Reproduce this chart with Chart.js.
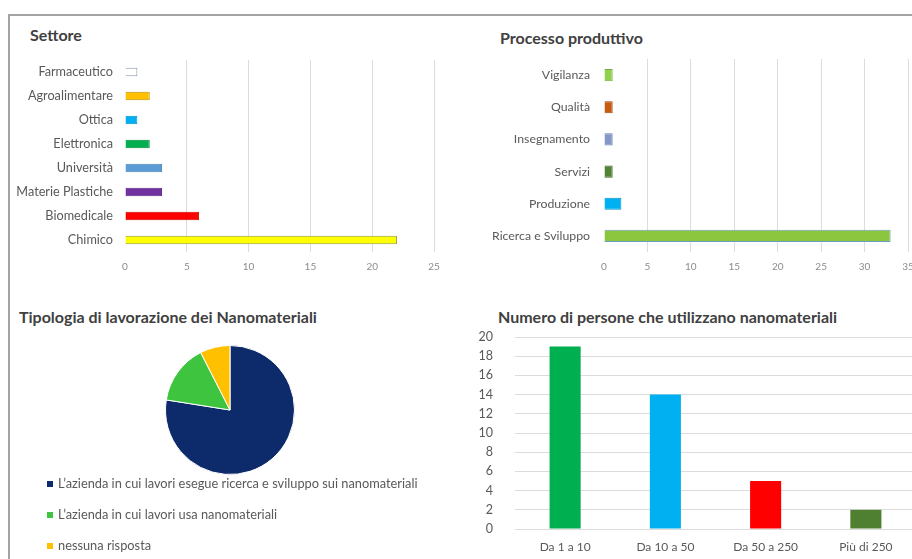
<!DOCTYPE html>
<html>
<head>
<meta charset="utf-8">
<script src="https://cdn.jsdelivr.net/npm/chart.js@4.4.0/dist/chart.umd.min.js"></script>
<style>
  body { margin: 0; width: 912px; height: 559px; overflow: hidden; background: #fff; position: relative; font-family: Lato, "Open Sans", sans-serif; }
  .frame { position: absolute; left: 8px; top: 14px; width: 940px; height: 600px; border-top: 2px solid #a3a3a3; border-left: 2px solid #a3a3a3; }
  .title { position: absolute; font-weight: bold; font-size: 16px; line-height: 16px; color: #404040; white-space: nowrap; }
  .box { position: absolute; }
  .legend { position: absolute; left: 47px; top: 468px; font-size: 12.8px; color: #595959; }
  .legend div { height: 31px; line-height: 31px; white-space: nowrap; }
  .legend span { display: inline-block; width: 6px; height: 6px; margin-right: 5px; vertical-align: middle; position: relative; top: -1px; }
</style>
</head>
<body>
<div class="frame"></div>

<div class="title" style="left:30px; top:27px;">Settore</div>
<div class="title" style="left:500px; top:30px;">Processo produttivo</div>
<div class="title" style="left:19px; top:309px;">Tipologia di lavorazione dei Nanomateriali</div>
<div class="title" style="left:498px; top:309px;">Numero di persone che utilizzano nanomateriali</div>

<div class="box" style="left:10px; top:55px; width:440px; height:222px;"><canvas id="settore"></canvas></div>
<div class="box" style="left:470px; top:53px; width:454px; height:224px;"><canvas id="processo"></canvas></div>
<div class="box" style="left:165px; top:345px; width:130px; height:130px;"><canvas id="tipologia"></canvas></div>
<div class="legend" id="tipologiaLegend"></div>
<div class="box" style="left:470px; top:330px; width:446px; height:225px;"><canvas id="persone"></canvas></div>

<script>
// data (40 answers in every chart)
const settoreLabels = ['Farmaceutico', 'Agroalimentare', 'Ottica', 'Elettronica', 'Università', 'Materie Plastiche', 'Biomedicale', 'Chimico'];
const settoreValues = [1, 2, 1, 2, 3, 3, 6, 22];
const settoreColors = ['#ffffff', '#ffc000', '#00b0f0', '#00b050', '#5b9bd5', '#7030a0', '#ff0000', '#ffff00'];
const settoreBorders = ['#8497b0', '#bf9000', '#0090c8', '#00873d', '#4a84bb', '#5a2585', '#d00000', '#8a9a3a'];

const processoLabels = ['Vigilanza', 'Qualità', 'Insegnamento', 'Servizi', 'Produzione', 'Ricerca e Sviluppo'];
const processoValues = [1, 1, 1, 1, 2, 33];
const processoColors = ['#92d050', '#c55a11', '#8497c8', '#548235', '#00b0f0', '#8cc63f'];
const processoBorders = ['#74ad3a', '#a34a0d', '#6a7fb0', '#43692a', '#0093cc', '#6f9fc0'];

const tipologiaLabels = [
  'L\u2019azienda in cui lavori esegue ricerca e sviluppo sui nanomateriali',
  'L\u2019azienda in cui lavori usa nanomateriali',
  'nessuna risposta'
];
const tipologiaValues = [31, 6, 3];
const tipologiaColors = ['#0d2a6a', '#3fc43f', '#ffc000'];

const personeLabels = ['Da 1 a 10', 'Da 10 a 50', 'Da 50 a 250', 'Più di 250'];
const personeValues = [19, 14, 5, 2];
const personeColors = ['#00b050', '#00b0f0', '#ff0000', '#4f7f30'];

Chart.defaults.font.family = 'Lato, "Open Sans", sans-serif';
Chart.defaults.animation = false;

const hidden = { legend: { display: false }, tooltip: { enabled: false } };

// keep the chart area where layout.padding puts it
function noPad(axis) {
    axis.paddingTop = 0;
    axis.paddingBottom = 0;
    axis.paddingLeft = 0;
    axis.paddingRight = 0;
}

function hBar(id, labels, values, colors, borders, max, opts) {
    return new Chart(document.getElementById(id), {
        type: 'bar',
        data: {
            labels: labels,
            datasets: [{
                data: values,
                backgroundColor: colors,
                borderColor: borders,
                borderWidth: 1,
                barPercentage: opts.bar,
                categoryPercentage: 1
            }]
        },
        options: {
            indexAxis: 'y',
            responsive: true,
            maintainAspectRatio: false,
            layout: { padding: { top: opts.top, right: 16, bottom: 0, left: 0 } },
            plugins: hidden,
            scales: {
                x: {
                    min: 0,
                    max: max,
                    ticks: { stepSize: 5, color: '#8c8c8c', font: { size: 10 }, padding: 9 },
                    grid: {
                        drawTicks: false,
                        color: function(c) { return c.tick && c.tick.value === 0 ? 'rgba(0,0,0,0)' : '#dcdcdc'; }
                    },
                    border: { display: false },
                    afterFit: function(axis) { noPad(axis); axis.height = 25; }
                },
                y: {
                    ticks: { color: '#595959', font: { size: opts.font }, padding: opts.pad },
                    grid: { display: false, drawTicks: false },
                    border: { display: false },
                    afterFit: function(axis) { noPad(axis); axis.width = opts.axisW; }
                }
            }
        }
    });
}

hBar('settore', settoreLabels, settoreValues, settoreColors, settoreBorders, 25, { bar: 0.36, top: 5, pad: 12, axisW: 115, font: 12.7 });
hBar('processo', processoLabels, processoValues, processoColors, processoBorders, 35, { bar: 0.38, top: 6, pad: 14, axisW: 134, font: 12.3 });

// pie
new Chart(document.getElementById('tipologia'), {
    type: 'pie',
    data: {
        labels: tipologiaLabels,
        datasets: [{
            data: tipologiaValues,
            backgroundColor: tipologiaColors,
            borderColor: '#ffffff',
            borderWidth: 1
        }]
    },
    options: {
        responsive: true,
        maintainAspectRatio: false,
        plugins: hidden
    }
});

// html legend for the pie, one item per line
const legendBox = document.getElementById('tipologiaLegend');
tipologiaLabels.forEach(function(label, i) {
    const row = document.createElement('div');
    const sq = document.createElement('span');
    sq.style.background = tipologiaColors[i];
    row.appendChild(sq);
    row.appendChild(document.createTextNode(label));
    legendBox.appendChild(row);
});

// column chart
new Chart(document.getElementById('persone'), {
    type: 'bar',
    data: {
        labels: personeLabels,
        datasets: [{
            data: personeValues,
            backgroundColor: personeColors,
            barPercentage: 0.31,
            categoryPercentage: 1
        }]
    },
    options: {
        responsive: true,
        maintainAspectRatio: false,
        layout: { padding: { top: 7, right: 0, bottom: 0, left: 0 } },
        plugins: hidden,
        scales: {
            x: {
                ticks: { color: '#595959', font: { size: 12 }, padding: 11 },
                grid: { display: false, drawTicks: false },
                border: { display: false },
                afterFit: function(axis) { noPad(axis); axis.height = 26; }
            },
            y: {
                min: 0,
                max: 20,
                ticks: { stepSize: 2, color: '#595959', font: { size: 12.5 }, padding: 22 },
                grid: { color: '#dcdcdc', drawTicks: false },
                border: { display: false },
                afterFit: function(axis) { noPad(axis); axis.width = 45; }
            }
        }
    }
});
</script>
</body>
</html>
